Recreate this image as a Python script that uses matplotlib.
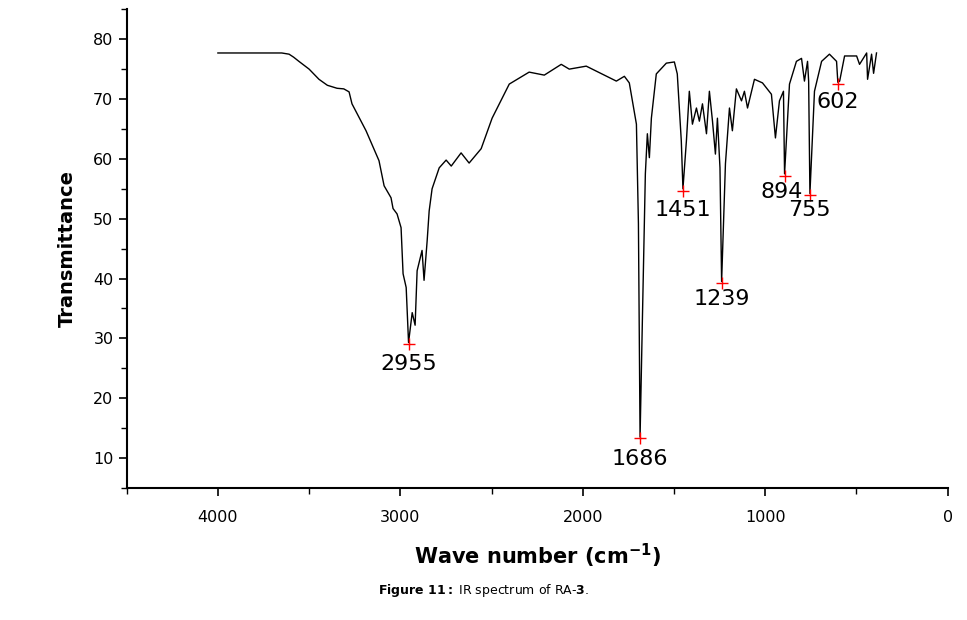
import numpy as np
import matplotlib.pyplot as plt
from matplotlib.ticker import MultipleLocator

# IR spectrum (wavenumber cm-1, transmittance)
wavenumber = [4000, 3650, 3610, 3585, 3556, 3500, 3446, 3400, 3347, 3310, 3281, 3265, 3188,
              3117, 3089, 3051,
              3040, 3018, 2996, 2985, 2968, 2955, 2935, 2919, 2908, 2881, 2870, 2853,
              2842, 2826, 2787, 2749, 2721, 2667, 2623, 2557, 2497, 2403, 2294, 2211,
              2118, 2074, 1981, 1816, 1772, 1745, 1706, 1695, 1686, 1673, 1657, 1646,
              1635, 1624, 1597, 1542, 1498, 1482, 1460, 1451, 1432, 1416, 1399, 1377,
              1361, 1344, 1322, 1306, 1289, 1273, 1262, 1248, 1239, 1218, 1196, 1180,
              1158, 1130, 1114, 1097, 1059, 1015, 966, 944, 922, 900, 894, 867, 829,
              801, 785, 768, 762, 755, 730, 691, 648, 609, 602, 592, 565, 499, 483,
              444, 439, 417, 406, 390]
transmittance = [77.7, 77.7, 77.5, 77.0, 76.3, 75.0, 73.3, 72.3, 71.8, 71.7, 71.2, 69.2,
                 64.7, 59.7, 55.5, 53.5,
                 51.7, 50.8, 48.5, 40.8, 38.5, 29.3, 34.3, 32.2, 41.3, 44.7, 39.7, 46.3,
                 51.3, 55.0, 58.5, 59.8, 58.8, 61.0, 59.3, 61.7, 66.8, 72.5, 74.5, 74.0,
                 75.8, 75.0, 75.5, 73.0, 73.8, 72.7, 65.8, 49.2, 13.5, 33.5, 57.5, 64.2,
                 60.2, 66.8, 74.2, 76.0, 76.2, 74.2, 63.0, 55.0, 63.0, 71.3, 65.8, 68.5,
                 66.3, 69.2, 64.2, 71.3, 66.3, 60.8, 66.8, 58.5, 39.5, 59.2, 68.5, 64.7,
                 71.7, 69.7, 71.3, 68.5, 73.3, 72.7, 70.8, 63.5, 69.7, 71.3, 57.5, 72.5,
                 76.3, 76.8, 73.0, 76.3, 73.0, 54.2, 71.3, 76.3, 77.5, 76.3, 72.8, 73.0,
                 77.2, 77.2, 75.8, 77.7, 73.3, 77.5, 74.3, 77.7]

peak_x = [2955, 1686, 1451, 1239, 894, 755, 602]
peak_y = [29.0, 13.3, 54.6, 39.3, 57.2, 53.9, 72.5]
peak_labels = ["2955", "1686", "1451", "1239", "894", "755", "602"]
label_offsets = [(0, -3.3), (0, -3.5), (0, -3.2), (0, -2.8), (-15, -2.8), (0, -2.4), (0, -3.0)]

fig = plt.figure(figsize=(9.67, 6.2), dpi=100)
ax = fig.add_axes([0.131, 0.213, 0.849, 0.772])
ax.plot(wavenumber, transmittance, color="black", lw=1.0)
ax.plot(peak_x, peak_y, "+", color="red", ms=9, mew=1.0)
for x, y, lab, (dx, dy) in zip(peak_x, peak_y, peak_labels, label_offsets):
    ax.text(x - dx, y + dy, lab, ha="center", va="center", fontsize=16)

ax.set_xlim(4500, 0)
ax.set_ylim(5, 85)
ax.xaxis.set_major_locator(MultipleLocator(1000))
ax.xaxis.set_minor_locator(MultipleLocator(500))
ax.yaxis.set_major_locator(MultipleLocator(10))
ax.yaxis.set_minor_locator(MultipleLocator(5))
ax.set_yticks(range(10, 81, 10))
for s in ["top", "right"]:
    ax.spines[s].set_visible(False)
for s in ["left", "bottom"]:
    ax.spines[s].set_linewidth(1.5)
ax.tick_params(which="major", direction="out", length=6, width=1.2, labelsize=11.5)
ax.tick_params(which="minor", direction="out", length=4, width=1.0)
ax.tick_params(axis="x", pad=10)

ax.set_ylabel("Transmittance", fontsize=14, fontweight="bold", labelpad=12)
ax.set_xlabel(r"Wave number (cm$^{\mathbf{-1}}$)", fontsize=15, fontweight="bold", labelpad=12)

fig.text(0.5, 0.048, r"$\bf{Figure\ 11:}$ IR spectrum of RA-$\bf{3}$.", ha="center",
         va="center", fontsize=9)

fig.savefig("out.png", dpi=100)
